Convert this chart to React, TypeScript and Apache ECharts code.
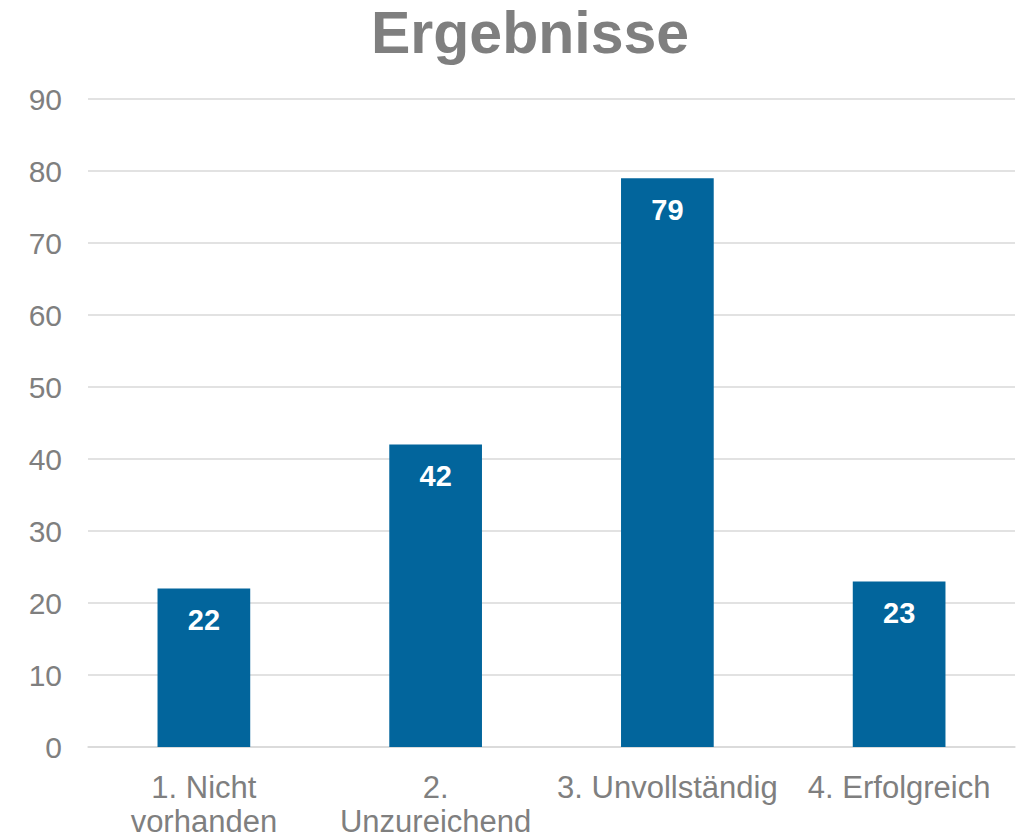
import React, { useEffect, useRef } from "react";
import * as echarts from "echarts";

const categories = ["1. Nicht\nvorhanden", "2.\nUnzureichend", "3. Unvollständig", "4. Erfolgreich"];
const values = [22, 42, 79, 23];
const yTicks = { min: 0, max: 90, interval: 10 };
const titleText = "Ergebnisse";

export default function App() {
  const ref = useRef<HTMLDivElement>(null);
  useEffect(() => {
    document.body.style.margin = "0";
    const chart = echarts.init(ref.current!, null, { renderer: "svg" });
    const font = "'Liberation Sans', Arial, sans-serif";
    chart.setOption({
      animation: false,
      backgroundColor: "#ffffff",
      title: {
        text: titleText,
        left: 366,
        top: -2,
        textStyle: { fontFamily: font, fontSize: 59, fontWeight: "bold", color: "#7f7f7f" },
      },
      grid: { left: 88, right: 10, top: 99, bottom: 87, containLabel: false },
      xAxis: {
        type: "category",
        data: categories,
        axisLine: { show: true, lineStyle: { color: "#d9d9d9", width: 1.5 } },
        axisTick: { show: false },
        axisLabel: {
          interval: 0,
          margin: 23,
          fontFamily: font,
          fontSize: 31,
          lineHeight: 34,
          color: "#7f7f7f",
        },
      },
      yAxis: {
        type: "value",
        min: yTicks.min,
        max: yTicks.max,
        interval: yTicks.interval,
        axisLine: { show: false },
        axisTick: { show: false },
        splitLine: { lineStyle: { color: "#d9d9d9", width: 1.5 } },
        axisLabel: { margin: 26, fontFamily: font, fontSize: 30, color: "#7f7f7f" },
      },
      series: [
        {
          type: "bar",
          data: values,
          barWidth: "40%",
          itemStyle: { color: "#02659c" },
          label: {
            show: true,
            position: "insideTop",
            distance: 17,
            fontFamily: font,
            fontSize: 29,
            fontWeight: "bold",
            color: "#ffffff",
          },
        },
      ],
    });
    return () => chart.dispose();
  }, []);
  return <div ref={ref} style={{ width: 1025, height: 838 }} />;
}
